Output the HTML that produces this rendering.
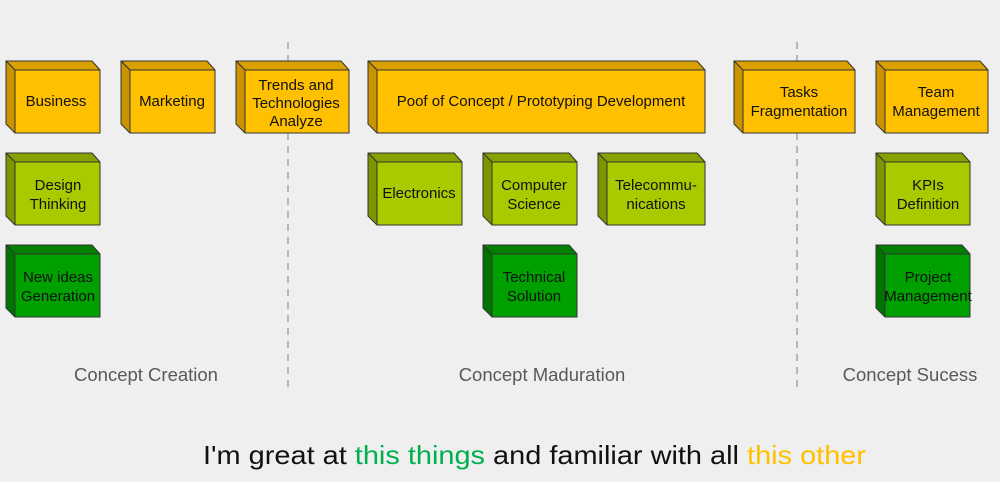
<!DOCTYPE html>
<html><head><meta charset="utf-8"><style>
html,body{margin:0;padding:0;background:#efefef;}
svg{display:block}
</style></head><body>
<svg width="1000" height="482" viewBox="0 0 1000 482" xmlns="http://www.w3.org/2000/svg" font-family="Liberation Sans, Arial, sans-serif">
<rect width="1000" height="482" fill="#efefef"/>
<g stroke="#999" stroke-width="1.3" stroke-dasharray="7,6">
<line x1="288" y1="42" x2="288" y2="388"/>
<line x1="797" y1="42" x2="797" y2="388"/>
</g>
<g stroke="#333" stroke-width="1" stroke-linejoin="round">
<g fill="#FFC000">
<polygon points="6,61 92,61 100,70 15,70" fill="#D9A000"/><polygon points="6,61 15,70 15,133 6,124" fill="#C99400"/><rect x="15" y="70" width="85" height="63"/>
<polygon points="121,61 207,61 215,70 130,70" fill="#D9A000"/><polygon points="121,61 130,70 130,133 121,124" fill="#C99400"/><rect x="130" y="70" width="85" height="63"/>
<polygon points="236,61 341,61 349,70 245,70" fill="#D9A000"/><polygon points="236,61 245,70 245,133 236,124" fill="#C99400"/><rect x="245" y="70" width="104" height="63"/>
<polygon points="368,61 697,61 705,70 377,70" fill="#D9A000"/><polygon points="368,61 377,70 377,133 368,124" fill="#C99400"/><rect x="377" y="70" width="328" height="63"/>
<polygon points="734,61 847,61 855,70 743,70" fill="#D9A000"/><polygon points="734,61 743,70 743,133 734,124" fill="#C99400"/><rect x="743" y="70" width="112" height="63"/>
<polygon points="876,61 980,61 988,70 885,70" fill="#D9A000"/><polygon points="876,61 885,70 885,133 876,124" fill="#C99400"/><rect x="885" y="70" width="103" height="63"/>
</g>
<g fill="#A8CB00">
<polygon points="6,153 92,153 100,162 15,162" fill="#86A200"/><polygon points="6,153 15,162 15,225 6,216" fill="#7C9600"/><rect x="15" y="162" width="85" height="63"/>
<polygon points="368,153 454,153 462,162 377,162" fill="#86A200"/><polygon points="368,153 377,162 377,225 368,216" fill="#7C9600"/><rect x="377" y="162" width="85" height="63"/>
<polygon points="483,153 569,153 577,162 492,162" fill="#86A200"/><polygon points="483,153 492,162 492,225 483,216" fill="#7C9600"/><rect x="492" y="162" width="85" height="63"/>
<polygon points="598,153 697,153 705,162 607,162" fill="#86A200"/><polygon points="598,153 607,162 607,225 598,216" fill="#7C9600"/><rect x="607" y="162" width="98" height="63"/>
<polygon points="876,153 962,153 970,162 885,162" fill="#86A200"/><polygon points="876,153 885,162 885,225 876,216" fill="#7C9600"/><rect x="885" y="162" width="85" height="63"/>
</g>
<g fill="#00A000">
<polygon points="6,245 92,245 100,254 15,254" fill="#008000"/><polygon points="6,245 15,254 15,317 6,308" fill="#007400"/><rect x="15" y="254" width="85" height="63"/>
<polygon points="483,245 569,245 577,254 492,254" fill="#008000"/><polygon points="483,245 492,254 492,317 483,308" fill="#007400"/><rect x="492" y="254" width="85" height="63"/>
<polygon points="876,245 962,245 970,254 885,254" fill="#008000"/><polygon points="876,245 885,254 885,317 876,308" fill="#007400"/><rect x="885" y="254" width="85" height="63"/>
</g>
</g>
<g font-size="15" fill="#111" text-anchor="middle">
<text x="56" y="106">Business</text>
<text x="172" y="106">Marketing</text>
<text x="296" y="90">Trends and</text><text x="296" y="108">Technologies</text><text x="296" y="126">Analyze</text>
<text x="541" y="106">Poof of Concept / Prototyping Development</text>
<text x="799" y="97">Tasks</text><text x="799" y="116">Fragmentation</text>
<text x="936" y="97">Team</text><text x="936" y="116">Management</text>
<text x="58" y="190">Design</text><text x="58" y="209">Thinking</text>
<text x="419" y="198">Electronics</text>
<text x="534" y="190">Computer</text><text x="534" y="209">Science</text>
<text x="656" y="190">Telecommu-</text><text x="656" y="209">nications</text>
<text x="928" y="190">KPIs</text><text x="928" y="209">Definition</text>
<text x="58" y="282">New ideas</text><text x="58" y="301">Generation</text>
<text x="534" y="282">Technical</text><text x="534" y="301">Solution</text>
<text x="928" y="282">Project</text><text x="928" y="301">Management</text>
</g>
<g font-size="18.5" fill="#595959" text-anchor="middle">
<text x="146" y="381">Concept Creation</text>
<text x="542" y="381">Concept Maduration</text>
<text x="910" y="381">Concept Sucess</text>
</g>
<text x="203" y="464" font-size="26" fill="#111" textLength="663" lengthAdjust="spacingAndGlyphs">I'm great at <tspan fill="#00B050">this things</tspan> and familiar with all <tspan fill="#FFC000">this other</tspan></text>
</svg>
</body></html>
